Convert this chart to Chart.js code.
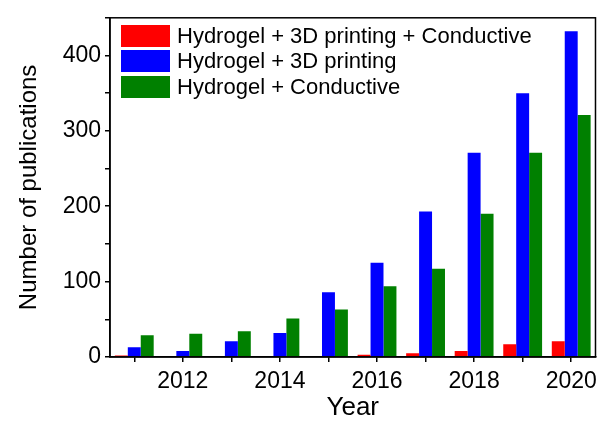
<!DOCTYPE html>
<html>
<head>
    <title>Hydrogel publications</title>
    <script src="https://cdn.jsdelivr.net/npm/chart.js"></script>
    <style>
        body { margin: 0; background: #fff; }
        #wrap { position: relative; width: 603px; height: 421px; }
        #legend { position: absolute; left: 121px; top: 23px; font-family: "Liberation Sans", Arial, sans-serif; font-size: 22px; color: #000; }
        .item { display: flex; align-items: center; height: 25.5px; }
        .box { width: 49px; height: 22px; margin-right: 7px; }
    </style>
</head>
<body>
    <div id="wrap">
        <canvas id="chart" width="603" height="421"></canvas>
        <div id="legend"></div>
    </div>

    <script>
// data
const years = ['2011', '2012', '2013', '2014', '2015', '2016', '2017', '2018', '2019', '2020'];
const printingConductive = [2, 0, 0, 0, 1, 3, 5, 8, 17, 21];
const printing3D = [13, 8, 21, 32, 86, 125, 193, 271, 350, 432];
const conductive = [29, 31, 34, 51, 63, 94, 117, 190, 271, 321];
const yTicks = [0, 100, 200, 300, 400];

const labelFont = { family: 'Liberation Sans', size: 23 };
const titleFont = { family: 'Liberation Sans', size: 24, lineHeight: 1 };

// box around the plot area
const frame = {
    id: 'frame',
    afterDraw(chart) {
        const a = chart.chartArea;
        const ctx = chart.ctx;
        ctx.save();
        ctx.strokeStyle = '#000';
        ctx.lineWidth = 1.5;
        ctx.strokeRect(a.left, a.top, a.right - a.left, a.bottom - a.top);
        ctx.restore();
    }
};

const chart = new Chart(document.getElementById('chart'), {
    type: 'bar',
    data: {
        labels: years,
        datasets: [
            { label: 'Hydrogel + 3D printing + Conductive', data: printingConductive, backgroundColor: '#ff0000' },
            { label: 'Hydrogel + 3D printing', data: printing3D, backgroundColor: '#0000ff' },
            { label: 'Hydrogel + Conductive', data: conductive, backgroundColor: '#008000' }
        ]
    },
    options: {
        responsive: false,
        animation: false,
        layout: { padding: { top: 16, right: 4, left: 0, bottom: 0 } },
        datasets: { bar: { barPercentage: 1, categoryPercentage: 0.8 } },
        plugins: { legend: { display: false }, tooltip: { enabled: false } },
        scales: {
            x: {
                grid: { offset: false, drawOnChartArea: false, tickLength: 5, color: '#000', lineWidth: 1.5 },
                border: { color: '#000', width: 1.5 },
                ticks: {
                    color: '#000', font: labelFont, padding: 6, maxRotation: 0, autoSkip: false,
                    callback: function (v, i) { return (i % 2 === 1) ? years[i] : ''; }
                },
                title: { display: true, text: 'Year', color: '#000', font: { family: 'Liberation Sans', size: 26, lineHeight: 1 }, padding: { top: 0, bottom: 0 } },
                afterFit: s => { s.height = 64; }
            },
            y: {
                min: 0, max: 450,
                grid: { drawOnChartArea: false, tickLength: 5, color: '#000', lineWidth: 1.5 },
                border: { color: '#000', width: 1.5 },
                ticks: {
                    stepSize: 50, color: '#000', font: labelFont, padding: 4,
                    callback: v => yTicks.includes(v) ? String(v) : ''
                },
                title: { display: true, text: 'Number of publications', color: '#000', font: titleFont, padding: { top: 17, bottom: 0 } },
                afterFit: s => { s.width = 110; }
            }
        }
    },
    plugins: [frame]
});

// legend built from the datasets
const legend = document.getElementById('legend');
chart.data.datasets.forEach(ds => {
    const row = document.createElement('div');
    row.className = 'item';
    const box = document.createElement('span');
    box.className = 'box';
    box.style.background = ds.backgroundColor;
    const txt = document.createElement('span');
    txt.textContent = ds.label;
    row.appendChild(box);
    row.appendChild(txt);
    legend.appendChild(row);
});
    </script>
</body>
</html>
